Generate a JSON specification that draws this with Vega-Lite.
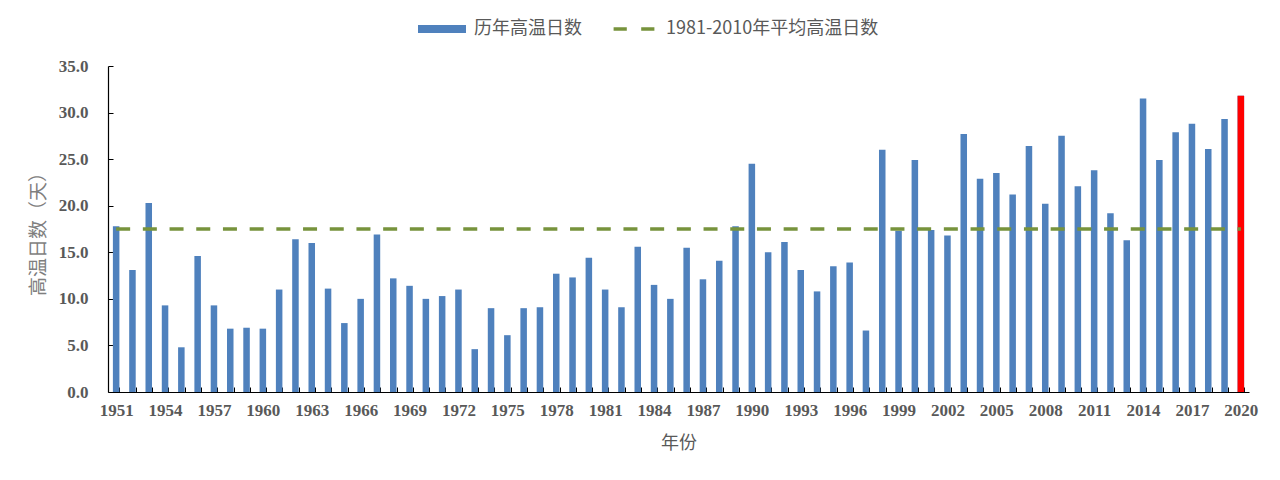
{
  "$schema": "https://vega.github.io/schema/vega-lite/v6.json",
  "width": 1141,
  "height": 326,
  "autosize": {"type": "none"},
  "padding": {"left": 108, "top": 66, "right": 31, "bottom": 88},
  "background": "white",
  "config": {
    "view": {"stroke": null},
    "font": "Liberation Serif",
    "axis": {"domainColor": "#000000", "tickColor": "#000000", "grid": false}
  },
  "data": {
    "values": [
      {"year": 1951, "days": 17.8, "avg": 17.5},
      {"year": 1952, "days": 13.1, "avg": 17.5},
      {"year": 1953, "days": 20.3, "avg": 17.5},
      {"year": 1954, "days": 9.3, "avg": 17.5},
      {"year": 1955, "days": 4.8, "avg": 17.5},
      {"year": 1956, "days": 14.6, "avg": 17.5},
      {"year": 1957, "days": 9.3, "avg": 17.5},
      {"year": 1958, "days": 6.8, "avg": 17.5},
      {"year": 1959, "days": 6.9, "avg": 17.5},
      {"year": 1960, "days": 6.8, "avg": 17.5},
      {"year": 1961, "days": 11.0, "avg": 17.5},
      {"year": 1962, "days": 16.4, "avg": 17.5},
      {"year": 1963, "days": 16.0, "avg": 17.5},
      {"year": 1964, "days": 11.1, "avg": 17.5},
      {"year": 1965, "days": 7.4, "avg": 17.5},
      {"year": 1966, "days": 10.0, "avg": 17.5},
      {"year": 1967, "days": 16.9, "avg": 17.5},
      {"year": 1968, "days": 12.2, "avg": 17.5},
      {"year": 1969, "days": 11.4, "avg": 17.5},
      {"year": 1970, "days": 10.0, "avg": 17.5},
      {"year": 1971, "days": 10.3, "avg": 17.5},
      {"year": 1972, "days": 11.0, "avg": 17.5},
      {"year": 1973, "days": 4.6, "avg": 17.5},
      {"year": 1974, "days": 9.0, "avg": 17.5},
      {"year": 1975, "days": 6.1, "avg": 17.5},
      {"year": 1976, "days": 9.0, "avg": 17.5},
      {"year": 1977, "days": 9.1, "avg": 17.5},
      {"year": 1978, "days": 12.7, "avg": 17.5},
      {"year": 1979, "days": 12.3, "avg": 17.5},
      {"year": 1980, "days": 14.4, "avg": 17.5},
      {"year": 1981, "days": 11.0, "avg": 17.5},
      {"year": 1982, "days": 9.1, "avg": 17.5},
      {"year": 1983, "days": 15.6, "avg": 17.5},
      {"year": 1984, "days": 11.5, "avg": 17.5},
      {"year": 1985, "days": 10.0, "avg": 17.5},
      {"year": 1986, "days": 15.5, "avg": 17.5},
      {"year": 1987, "days": 12.1, "avg": 17.5},
      {"year": 1988, "days": 14.1, "avg": 17.5},
      {"year": 1989, "days": 17.8, "avg": 17.5},
      {"year": 1990, "days": 24.5, "avg": 17.5},
      {"year": 1991, "days": 15.0, "avg": 17.5},
      {"year": 1992, "days": 16.1, "avg": 17.5},
      {"year": 1993, "days": 13.1, "avg": 17.5},
      {"year": 1994, "days": 10.8, "avg": 17.5},
      {"year": 1995, "days": 13.5, "avg": 17.5},
      {"year": 1996, "days": 13.9, "avg": 17.5},
      {"year": 1997, "days": 6.6, "avg": 17.5},
      {"year": 1998, "days": 26.0, "avg": 17.5},
      {"year": 1999, "days": 17.3, "avg": 17.5},
      {"year": 2000, "days": 24.9, "avg": 17.5},
      {"year": 2001, "days": 17.4, "avg": 17.5},
      {"year": 2002, "days": 16.8, "avg": 17.5},
      {"year": 2003, "days": 27.7, "avg": 17.5},
      {"year": 2004, "days": 22.9, "avg": 17.5},
      {"year": 2005, "days": 23.5, "avg": 17.5},
      {"year": 2006, "days": 21.2, "avg": 17.5},
      {"year": 2007, "days": 26.4, "avg": 17.5},
      {"year": 2008, "days": 20.2, "avg": 17.5},
      {"year": 2009, "days": 27.5, "avg": 17.5},
      {"year": 2010, "days": 22.1, "avg": 17.5},
      {"year": 2011, "days": 23.8, "avg": 17.5},
      {"year": 2012, "days": 19.2, "avg": 17.5},
      {"year": 2013, "days": 16.3, "avg": 17.5},
      {"year": 2014, "days": 31.5, "avg": 17.5},
      {"year": 2015, "days": 24.9, "avg": 17.5},
      {"year": 2016, "days": 27.9, "avg": 17.5},
      {"year": 2017, "days": 28.8, "avg": 17.5},
      {"year": 2018, "days": 26.1, "avg": 17.5},
      {"year": 2019, "days": 29.3, "avg": 17.5},
      {"year": 2020, "days": 31.8, "avg": 17.5}
    ]
  },
  "encoding": {
    "x": {
      "field": "year",
      "type": "ordinal",
      "scale": {"paddingInner": 0.6, "paddingOuter": 0.3},
      "axis": {
        "title": "年份",
        "titleFont": "Noto Sans CJK SC",
        "titleFontSize": 18,
        "titleFontWeight": "normal",
        "titleColor": "#595959",
        "titlePadding": 16,
        "labelExpr": "(datum.value - 1951) % 3 == 0 ? datum.value : ''",
        "labelAngle": 0,
        "labelOverlap": false,
        "labelFont": "Liberation Serif",
        "labelFontSize": 17,
        "labelFontWeight": "bold",
        "labelColor": "#595959",
        "labelPadding": 15,
        "tickBand": "extent",
        "tickSize": -5,
        "domainWidth": 1.2
      }
    }
  },
  "layer": [
    {
      "mark": {"type": "bar"},
      "encoding": {
        "y": {
          "field": "days",
          "type": "quantitative",
          "scale": {"domain": [0, 35], "nice": false},
          "axis": {
            "title": "高温日数（天）",
            "titleFont": "Noto Sans CJK SC",
            "titleFontSize": 19,
            "titleFontWeight": "normal",
            "titleColor": "#7F7F7F",
            "titlePadding": 10,
            "values": [0, 5, 10, 15, 20, 25, 30, 35],
            "format": ".1f",
            "labelFont": "Liberation Serif",
            "labelFontSize": 17,
            "labelFontWeight": "bold",
            "labelColor": "#595959",
            "labelPadding": 25,
            "tickSize": -5,
            "domainWidth": 1.2
          }
        },
        "color": {
          "datum": "历年高温日数",
          "type": "nominal",
          "scale": {
            "domain": ["历年高温日数", "1981-2010年平均高温日数"],
            "range": ["#4F81BD", "#77933C"]
          },
          "legend": {
            "title": null,
            "orient": "none",
            "direction": "horizontal",
            "legendX": 310,
            "legendY": -61,
            "symbolType": "square",
            "symbolSize": 2304,
            "symbolStrokeWidth": 0,
            "labelFont": "Noto Sans CJK SC",
            "labelFontSize": 18,
            "labelColor": "#595959",
            "labelOffset": 8,
            "labelLimit": 400,
            "columnPadding": 28,
            "encode": {
              "symbols": {
                "update": {
                  "shape": {"signal": "datum.value === '历年高温日数' ? 'M-1,-0.17H1V0.17H-1Z' : 'M-0.85,-0.075H-0.3V0.075H-0.85Z M0.3,-0.075H0.85V0.075H0.3Z'"},
                  "fill": {"scale": "color", "field": "value"},
                  "strokeWidth": {"value": 0}
                }
              }
            }
          }
        }
      }
    },
    {
      "transform": [{"filter": "datum.year == 2020"}],
      "mark": {"type": "bar", "color": "#FF0000"},
      "encoding": {"y": {"field": "days", "type": "quantitative"}}
    },
    {
      "mark": {"type": "line", "strokeWidth": 3.5, "strokeDash": [14, 12.7]},
      "encoding": {
        "y": {"field": "avg", "type": "quantitative"},
        "color": {"datum": "1981-2010年平均高温日数", "type": "nominal"}
      }
    }
  ]
}
